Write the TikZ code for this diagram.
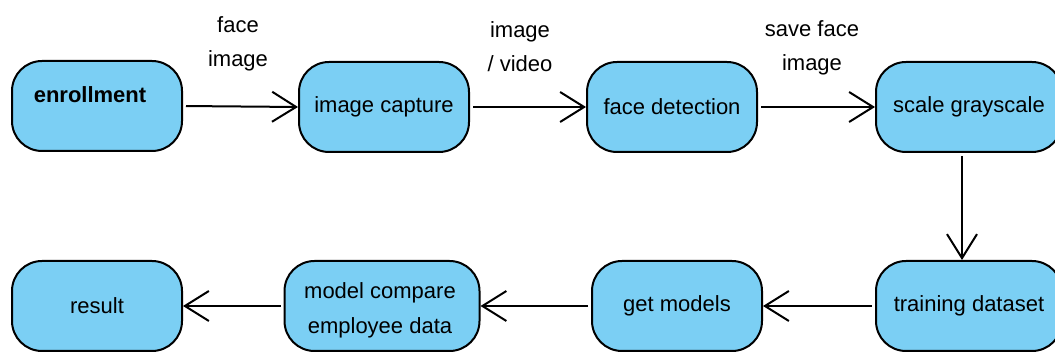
\documentclass[tikz,border=0pt]{standalone}
\usepackage{fontspec}
\setmainfont{Liberation Sans}
\usetikzlibrary{arrows.meta}
\definecolor{boxblue}{HTML}{7BCFF4}
\begin{document}
\begin{tikzpicture}[x=1pt,y=-1pt,
  stepbox/.style={draw=black, fill=boxblue, line width=2pt, rounded corners=30pt,
    minimum width=170pt, minimum height=90pt, inner sep=0pt, align=center,
    font=\fontsize{22}{35}\selectfont},
  widebox/.style={stepbox, minimum width=186pt},
  flow/.style={line width=2pt, shorten <=3pt,
    -{Straight Barb[length=24pt,width=30pt,line width=2pt]}},
  lbl/.style={align=center, font=\fontsize{22}{34}\selectfont, inner sep=0pt}]
  \useasboundingbox (0,0) rectangle (1055,352);

  % top row
  \node[stepbox] (enroll)  at (97,106)  {};
  \node[font=\fontsize{22}{26}\selectfont\bfseries, inner sep=0pt] (enrolltext) at (90,95) {enrollment};
  \node[stepbox] (capture) at (384,107) {image capture};
  \node[stepbox] (detect)  at (672,107) {face detection};
  \node[widebox] (gray)    at (969,107) {scale grayscale};

  % bottom row
  \node[widebox] (train)   at (969,306) {training dataset};
  \node[stepbox] (models)  at (677,306) {get models};
  \node[stepbox, minimum width=195pt] (compare) at (382,306) {};
  \node[lbl, font=\fontsize{22}{35}\selectfont] (comparetext) at (380,310) {model compare\\employee data};
  \node[stepbox] (result)  at (97,306)  {result};

  % flow
  \draw[flow] (enroll.east) -- (capture.west);
  \draw[flow] (capture.east) -- (detect.west);
  \draw[flow] (detect.east) -- (gray.west);
  \draw[flow] ([xshift=-7pt]gray.south) -- ([xshift=-7pt]train.north);
  \draw[flow] (train.west) -- (models.east);
  \draw[flow] (models.west) -- (compare.east);
  \draw[flow] (compare.west) -- (result.east);

  % edge labels
  \node[lbl] (lblface)  at (238,44) {face\\image};
  \node[lbl] (lblvideo) at (520,47) {image\\/ video};
  \node[lbl] (lblsave)  at (812,48) {save face\\image};
\end{tikzpicture}
\end{document}
